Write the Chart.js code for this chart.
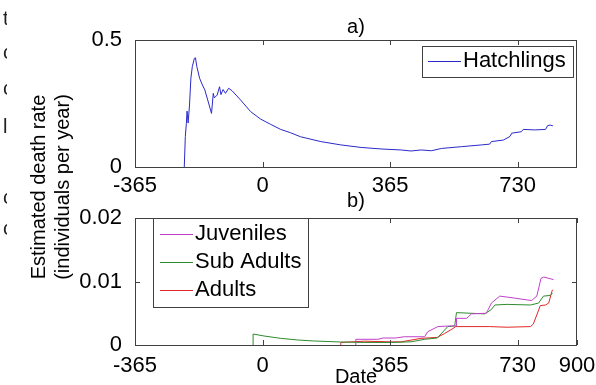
<!DOCTYPE html>
<html>
<head>
<meta charset="utf-8">
<script src="https://cdn.jsdelivr.net/npm/chart.js@4.4.0/dist/chart.umd.min.js"></script>
<style>
html, body { margin: 0; padding: 0; background: #fff; overflow: hidden; }
#wrap { position: relative; width: 596px; height: 385px; overflow: hidden; font-family: "Liberation Sans", Arial, sans-serif; }
#top { position: absolute; left: 0; top: 0; }
#bot { position: absolute; left: 0; top: 180px; }
#ylab { position: absolute; left: -80px; top: 163px; width: 260px; height: 48px; line-height: 24px;
        font-size: 20px; text-align: center; transform: rotate(-90deg); color: #000; white-space: nowrap; }
#edge { position: absolute; left: 0; top: 0; width: 7px; height: 385px; overflow: hidden; font-size: 20px; color: #222; }
#edge span { position: absolute; left: 3px; line-height: 20px; }
</style>
</head>
<body>
<div id="wrap">
  <canvas id="top" width="596" height="195"></canvas>
  <canvas id="bot" width="596" height="215"></canvas>
  <div id="ylab">Estimated death rate<br>(individuals per year)</div>
  <div id="edge">
    <span style="top:8px">t</span>
    <span style="top:42px">c</span>
    <span style="top:78px">c</span>
    <span style="top:116px">l</span>
    <span style="top:187px">c</span>
    <span style="top:218px">c</span>
  </div>
</div>
<script>
// a) hatchlings
const hatchDays = [-224, -221, -218, -216, -213, -209, -205, -201, -195, -192, -188, -180, -172, -165, -146,
  -141, -138, -130, -123, -119, -113, -106, -97, -87, -63, -34, -6, 23, 52, 80, 109, 167, 224, 282, 339,
  397, 425, 454, 483, 512, 569, 627, 650, 655, 689, 708, 713, 741, 746, 779, 810, 816, 823, 831];
const hatchRate = [0, 0.12, 0.172, 0.22, 0.173, 0.244, 0.35, 0.395, 0.428, 0.43, 0.395, 0.349, 0.323, 0.303, 0.211,
  0.29, 0.272, 0.283, 0.316, 0.285, 0.305, 0.29, 0.31, 0.3, 0.264, 0.218, 0.189, 0.168, 0.148, 0.135, 0.119, 0.1, 0.087, 0.077, 0.071,
  0.067, 0.063, 0.067, 0.064, 0.073, 0.08, 0.087, 0.09, 0.1, 0.106, 0.12, 0.133, 0.139, 0.148, 0.146, 0.148, 0.163, 0.165, 0.162];

// b) older stages
const juvDays = [267, 267, 330, 345, 380, 406, 464, 473, 502, 535, 555, 555, 584, 598, 640, 646, 655, 679, 720, 770, 785, 797, 805, 833];
const juvRate = [0, 0.0009, 0.0009, 0.0011, 0.0011, 0.0013, 0.0013, 0.0021, 0.0029, 0.003, 0.003, 0.0042, 0.0042, 0.0049,
  0.005, 0.0056, 0.0066, 0.0077, 0.0074, 0.007, 0.0077, 0.0105, 0.0107, 0.0103];
const subDays = [-27, -27, 4, 52, 100, 147, 224, 291, 368, 425, 464, 500, 530, 550, 555, 636, 655, 665, 700, 767, 790, 804, 823, 830];
const subRate = [0, 0.00173, 0.00142, 0.00105, 0.00079, 0.00063, 0.00047, 0.0004, 0.0004, 0.0005, 0.0009, 0.0011, 0.0029,
  0.003, 0.0051, 0.0049, 0.0056, 0.0063, 0.0064, 0.0063, 0.0066, 0.0077, 0.0078, 0.0082];
const adultDays = [224, 224, 291, 368, 397, 454, 500, 521, 545, 553, 650, 700, 767, 775, 795, 810, 819, 828, 830];
const adultRate = [0, 0.0004, 0.0006, 0.0005, 0.0005, 0.00105, 0.0012, 0.0018, 0.0026, 0.0029, 0.0029, 0.0028, 0.0029,
  0.0033, 0.0062, 0.0063, 0.0066, 0.0084, 0.0087];

const topXTicks = [-365, 0, 365, 730];
const botXTicks = [-365, 0, 365, 730, 900];
const topYTicks = [0, 0.5];
const botYTicks = [0, 0.01, 0.02];

const FONT = '"Liberation Sans", Arial, sans-serif';
const AXIS = '#404040';

function pts(days, vals) {
  return days.map((d, i) => ({ x: d, y: vals[i] }));
}

// box round the axes, inward tick marks, panel label and boxed legend
const framePlugin = {
  id: 'frame',
  afterDatasetsDraw(chart, args, o) {
    const { ctx, chartArea: a, scales: { x, y } } = chart;
    ctx.save();
    ctx.strokeStyle = AXIS;
    ctx.lineWidth = 1;
    ctx.strokeRect(a.left + 0.5, a.top + 0.5, a.right - a.left - 1, a.bottom - a.top);
    ctx.beginPath();
    x.ticks.forEach(t => {
      const px = Math.round(x.getPixelForValue(t.value)) + 0.5;
      ctx.moveTo(px, a.bottom); ctx.lineTo(px, a.bottom - 5);
      ctx.moveTo(px, a.top); ctx.lineTo(px, a.top + 5);
    });
    y.ticks.forEach(t => {
      const py = Math.round(y.getPixelForValue(t.value)) + 0.5;
      ctx.moveTo(a.left, py); ctx.lineTo(a.left + 5, py);
      ctx.moveTo(a.right, py); ctx.lineTo(a.right - 5, py);
    });
    ctx.stroke();

    // panel label
    ctx.fillStyle = '#000';
    ctx.font = '20px ' + FONT;
    ctx.textAlign = 'center';
    ctx.textBaseline = 'alphabetic';
    ctx.fillText(o.label, (a.left + a.right) / 2, o.labelY);

    // legend
    const L = o.legend;
    ctx.fillStyle = '#fff';
    ctx.fillRect(L.x, L.y, L.w, L.h);
    ctx.strokeStyle = AXIS;
    ctx.strokeRect(L.x + 0.5, L.y + 0.5, L.w, L.h);
    ctx.font = '22px ' + FONT;
    ctx.textAlign = 'left';
    ctx.textBaseline = 'middle';
    chart.data.datasets.forEach((ds, i) => {
      const ry = L.row0 + i * L.step;
      ctx.strokeStyle = ds.borderColor;
      ctx.beginPath();
      ctx.moveTo(L.lineX, Math.round(ry) + 0.5);
      ctx.lineTo(L.lineX + 33, Math.round(ry) + 0.5);
      ctx.stroke();
      ctx.fillStyle = '#000';
      ctx.fillText(ds.label, L.lineX + 35, ry);
    });
    ctx.restore();
  }
};

function makeChart(id, datasets, s) {
  return new Chart(document.getElementById(id), {
    type: 'line',
    data: { datasets: datasets },
    options: {
      responsive: false,
      animation: false,
      events: [],
      layout: { padding: { top: s.top, right: 19, left: 0, bottom: 0 } },
      elements: { point: { radius: 0 }, line: { borderWidth: 1, tension: 0 } },
      plugins: {
        legend: { display: false },
        tooltip: { enabled: false },
        frame: s.frame
      },
      scales: {
        x: {
          type: 'linear', min: -365, max: 900,
          grid: { display: false }, border: { display: false },
          afterBuildTicks: sc => { sc.ticks = s.xTicks.map(v => ({ value: v })); },
          afterFit: sc => { sc.height = s.xHeight; },
          ticks: { color: '#000', font: { family: FONT, size: 22 }, padding: s.xPad,
                   maxRotation: 0, autoSkip: false, callback: v => String(v) },
          title: s.xTitle
        },
        y: {
          type: 'linear', min: s.yTicks[0], max: s.yTicks[s.yTicks.length - 1],
          grid: { display: false }, border: { display: false },
          afterBuildTicks: sc => { sc.ticks = s.yTicks.map(v => ({ value: v })); },
          afterFit: sc => { sc.width = 135; },
          ticks: { color: '#000', font: { family: FONT, size: 22 }, padding: 5, callback: v => String(v) }
        }
      }
    },
    plugins: [framePlugin]
  });
}

makeChart('top', [
  { label: 'Hatchlings', data: pts(hatchDays, hatchRate), borderColor: '#2a2ac8' }
], {
  top: 40, xHeight: 28, xPad: -2, xTicks: topXTicks, yTicks: topYTicks,
  xTitle: { display: false },
  frame: { label: 'a)', labelY: 33,
           legend: { x: 422, y: 46, w: 151, h: 31, row0: 61, step: 0, lineX: 428 } }
});

makeChart('bot', [
  { label: 'Juveniles', data: pts(juvDays, juvRate), borderColor: '#c040c8' },
  { label: 'Sub Adults', data: pts(subDays, subRate), borderColor: '#2e8b2e' },
  { label: 'Adults', data: pts(adultDays, adultRate), borderColor: '#e02828' }
], {
  top: 38, xHeight: 50, xPad: 0, xTicks: botXTicks, yTicks: botYTicks,
  xTitle: { display: true, text: 'Date', color: '#000', font: { family: FONT, size: 20 },
            padding: { top: 0, bottom: 5.5 } },
  frame: { label: 'b)', labelY: 27,
           legend: { x: 153, y: 38, w: 155, h: 89, row0: 53.5, step: 28.3, lineX: 160 } }
});
</script>
</body>
</html>
